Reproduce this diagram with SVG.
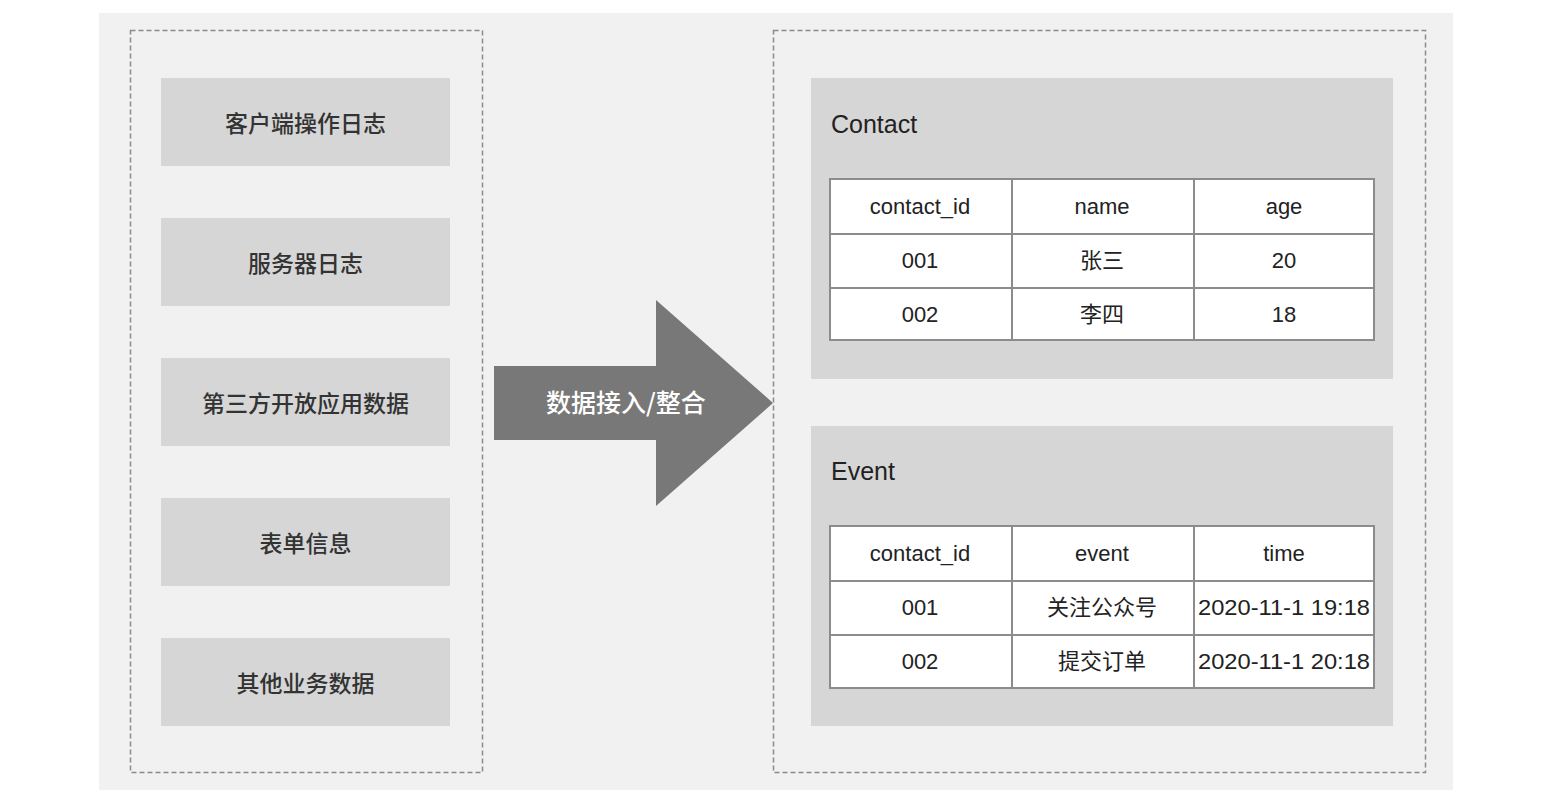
<svg xmlns="http://www.w3.org/2000/svg" width="1544" height="804" viewBox="0 0 1544 804">
<style>
.bg{fill:#f1f1f1}
.dash{fill:none;stroke:#8a8a8a;stroke-width:1.5;stroke-dasharray:5 3}
.box{fill:#d6d6d6}
.lbl{font-family:"Noto Sans CJK SC","Liberation Sans",sans-serif;font-size:23px;font-weight:500;fill:#333;text-anchor:middle;dominant-baseline:central}
.title{font-family:"Liberation Sans","Noto Sans CJK SC",sans-serif;font-size:25px;fill:#222}
.cell{fill:#fff;stroke:#8c8c8c;stroke-width:2}
.grid{stroke:#8c8c8c;stroke-width:2}
.ct{font-family:"Liberation Sans","Noto Sans CJK SC",sans-serif;font-size:22px;fill:#222;text-anchor:middle;dominant-baseline:central}
.arrow{fill:#787878}
.at{font-family:"Noto Sans CJK SC","Liberation Sans",sans-serif;font-size:25px;font-weight:500;fill:#fff;text-anchor:middle;dominant-baseline:central}
</style>
<rect class="bg" x="99" y="13" width="1354" height="777"/>
<rect class="dash" x="130.5" y="30.5" width="352" height="742"/>
<rect class="dash" x="773.5" y="30.5" width="652" height="742"/>
<g id="n1"><rect class="box" x="161" y="78" width="289" height="88"/><text class="lbl" x="305.5" y="122">客户端操作日志</text></g>
<g id="n2"><rect class="box" x="161" y="218" width="289" height="88"/><text class="lbl" x="305.5" y="262">服务器日志</text></g>
<g id="n3"><rect class="box" x="161" y="358" width="289" height="88"/><text class="lbl" x="305.5" y="402">第三方开放应用数据</text></g>
<g id="n4"><rect class="box" x="161" y="498" width="289" height="88"/><text class="lbl" x="305.5" y="542">表单信息</text></g>
<g id="n5"><rect class="box" x="161" y="638" width="289" height="88"/><text class="lbl" x="305.5" y="682">其他业务数据</text></g>
<g id="connectors">
<g id="arrow"><polygon class="arrow" points="494,366 656,366 656,300 773,403 656,506 656,440 494,440"/><text class="at" x="626" y="401">数据接入/整合</text></g>
</g>
<g id="contact">
<rect class="box" x="811" y="78" width="582" height="301"/>
<text class="title" x="831" y="133">Contact</text>
<rect class="cell" x="830" y="179" width="544" height="161"/>
<line class="grid" x1="1012" y1="179" x2="1012" y2="340"/>
<line class="grid" x1="1194" y1="179" x2="1194" y2="340"/>
<line class="grid" x1="830" y1="234" x2="1374" y2="234"/>
<line class="grid" x1="830" y1="288" x2="1374" y2="288"/>
<text class="ct" x="920" y="206">contact_id</text>
<text class="ct" x="1102" y="206">name</text>
<text class="ct" x="1284" y="206">age</text>
<text class="ct" x="920" y="260">001</text>
<text class="ct" x="1102" y="260">张三</text>
<text class="ct" x="1284" y="260">20</text>
<text class="ct" x="920" y="314">002</text>
<text class="ct" x="1102" y="314">李四</text>
<text class="ct" x="1284" y="314">18</text>
</g>
<g id="event">
<rect class="box" x="811" y="426" width="582" height="300"/>
<text class="title" x="831" y="480">Event</text>
<rect class="cell" x="830" y="526" width="544" height="162"/>
<line class="grid" x1="1012" y1="526" x2="1012" y2="688"/>
<line class="grid" x1="1194" y1="526" x2="1194" y2="688"/>
<line class="grid" x1="830" y1="581" x2="1374" y2="581"/>
<line class="grid" x1="830" y1="635" x2="1374" y2="635"/>
<text class="ct" x="920" y="553">contact_id</text>
<text class="ct" x="1102" y="553">event</text>
<text class="ct" x="1284" y="553">time</text>
<text class="ct" x="920" y="607">001</text>
<text class="ct" x="1102" y="607">关注公众号</text>
<text class="ct" x="1284" y="607" textLength="172" lengthAdjust="spacingAndGlyphs">2020-11-1 19:18</text>
<text class="ct" x="920" y="661">002</text>
<text class="ct" x="1102" y="661">提交订单</text>
<text class="ct" x="1284" y="661" textLength="172" lengthAdjust="spacingAndGlyphs">2020-11-1 20:18</text>
</g>
</svg>
